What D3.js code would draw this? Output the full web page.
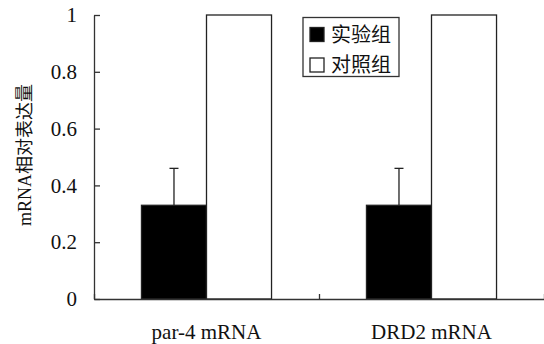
<!DOCTYPE html>
<html>
<head>
<meta charset="utf-8">
<script src="https://cdn.jsdelivr.net/npm/d3@7"></script>
<style>
  body { margin: 0; background: #fff; }
  svg text { font-family: "Liberation Serif", "Noto Sans CJK SC", serif; fill: #111; }
</style>
</head>
<body>
<svg id="chart" width="544" height="344"></svg>
<script>
"use strict";

const categories = ['par-4 mRNA', 'DRD2 mRNA'];
const groups = ['实验组', '对照组'];
const expValues = [0.33, 0.33];
const expErrors = [0.13, 0.13];
const ctrlValues = [1, 1];
const yTicks = [0, 0.2, 0.4, 0.6, 0.8, 1];

let svg = d3.select('svg#chart');

let plot = {left: 94, right: 544, top: 15, bottom: 299};

let yScale = d3.scaleLinear()
  .domain([0, 1])
  .range([plot.bottom, plot.top]);

let xScale = d3.scaleBand()
  .domain(categories)
  .range([plot.left, plot.right])
  .paddingInner(0)
  .paddingOuter(0);

let groupScale = d3.scaleBand()
  .domain(groups)
  .range([0, xScale.bandwidth()])
  .paddingInner(0)
  .paddingOuter(0.73);

let rows = categories.map((c, i) => ({
  category: c,
  values: [
    {group: groups[0], value: expValues[i], error: expErrors[i], fill: '#000'},
    {group: groups[1], value: ctrlValues[i], error: 0, fill: '#fff'}
  ]
}));

/* bars */
let catG = svg.selectAll('g.cat')
  .data(rows)
  .enter()
  .append('g')
  .attr('class', 'cat')
  .attr('transform', d => `translate(${xScale(d.category)},0)`);

catG.selectAll('rect')
  .data(d => d.values)
  .enter()
  .append('rect')
  .attr('x', d => groupScale(d.group))
  .attr('y', d => yScale(d.value))
  .attr('width', groupScale.bandwidth())
  .attr('height', d => yScale(0) - yScale(d.value))
  .style('fill', d => d.fill)
  .style('stroke', '#222')
  .style('stroke-width', 1.3);

/* error bars */
let errG = catG.selectAll('g.err')
  .data(d => d.values.filter(v => v.error > 0))
  .enter()
  .append('g')
  .attr('class', 'err');

errG.append('line')
  .attr('x1', d => groupScale(d.group) + groupScale.bandwidth() / 2)
  .attr('x2', d => groupScale(d.group) + groupScale.bandwidth() / 2)
  .attr('y1', d => yScale(d.value))
  .attr('y2', d => yScale(d.value + d.error))
  .style('stroke', '#222')
  .style('stroke-width', 1.3);

errG.append('line')
  .attr('x1', d => groupScale(d.group) + groupScale.bandwidth() / 2 - 4.5)
  .attr('x2', d => groupScale(d.group) + groupScale.bandwidth() / 2 + 4.5)
  .attr('y1', d => yScale(d.value + d.error))
  .attr('y2', d => yScale(d.value + d.error))
  .style('stroke', '#222')
  .style('stroke-width', 1.3);

/* y axis */
let yAxis = svg.append('g')
  .attr('transform', `translate(${plot.left},0)`)
  .call(d3.axisLeft(yScale)
    .tickValues(yTicks)
    .tickFormat(d => String(d))
    .tickSize(-6)
    .tickPadding(17)
    .tickSizeOuter(0));
yAxis.selectAll('path, line').style('stroke', '#333').style('stroke-width', 1.3);
yAxis.selectAll('text').style('font-size', '21px').style('fill', '#111');

/* x axis: ticks at category boundaries */
let boundaryScale = d3.scaleLinear()
  .domain([0, categories.length])
  .range([plot.left, plot.right]);

let xAxis = svg.append('g')
  .attr('transform', `translate(0,${plot.bottom})`)
  .call(d3.axisBottom(boundaryScale)
    .tickValues(d3.range(categories.length + 1))
    .tickFormat('')
    .tickSize(-5)
    .tickSizeOuter(0));
xAxis.selectAll('path, line').style('stroke', '#333').style('stroke-width', 1.3);

svg.selectAll('text.xlabel')
  .data(categories)
  .enter()
  .append('text')
  .attr('class', 'xlabel')
  .attr('text-anchor', 'middle')
  .attr('x', d => xScale(d) + xScale.bandwidth() / 2)
  .attr('y', 339)
  .style('font-size', '21px')
  .text(d => d);

/* y axis title */
svg.append('text')
  .attr('text-anchor', 'middle')
  .attr('transform', 'translate(31,155) rotate(-90)')
  .style('font-size', '18px')
  .style('fill', '#111')
  .text('mRNA相对表达量');

/* legend */
let legend = svg.append('g')
  .attr('transform', 'translate(303,17.5)');

legend.append('rect')
  .attr('width', 96)
  .attr('height', 59)
  .style('fill', '#fff')
  .style('stroke', '#333')
  .style('stroke-width', 1.3);

let legendFills = ['#000', '#fff'];
let item = legend.selectAll('g.item')
  .data(groups)
  .enter()
  .append('g')
  .attr('class', 'item')
  .attr('transform', (d, i) => `translate(7,${10 + i * 30.5})`);

item.append('rect')
  .attr('width', 14)
  .attr('height', 14)
  .style('fill', (d, i) => legendFills[i])
  .style('stroke', '#222')
  .style('stroke-width', 1.3);

item.append('text')
  .attr('x', 21)
  .attr('y', 7)
  .attr('dy', '0.36em')
  .style('font-size', '20px')
  .text(d => d);
</script>
</body>
</html>
